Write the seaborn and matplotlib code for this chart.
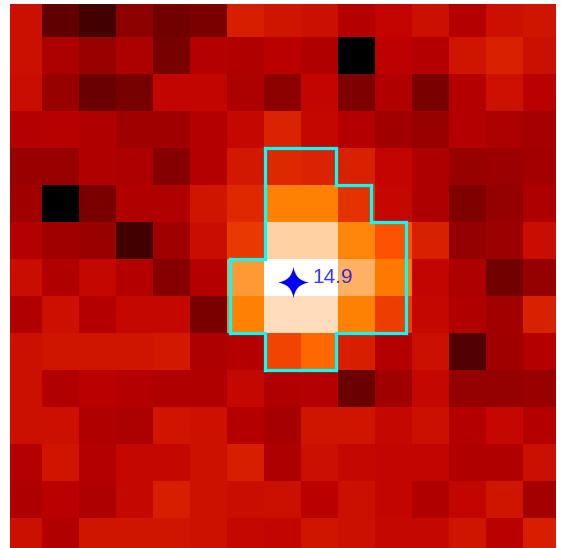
import numpy as np
import matplotlib
matplotlib.use("Agg")
import matplotlib.pyplot as plt
import seaborn as sns
from matplotlib.path import Path
from matplotlib.collections import LineCollection
from matplotlib.transforms import Affine2D

# ---- data (normalised pixel flux, 15 x 15 cutout, row 0 at top) ----
flux = [
    [0.53, 0.25, 0.175, 0.37, 0.30, 0.32, 0.56, 0.54, 0.53, 0.475, 0.505, 0.53, 0.475, 0.53, 0.54],
    [0.53, 0.45, 0.40, 0.45, 0.31, 0.47, 0.46, 0.49, 0.46, 0.00, 0.495, 0.47, 0.54, 0.565, 0.53],
    [0.525, 0.40, 0.28, 0.31, 0.51, 0.51, 0.45, 0.37, 0.51, 0.33, 0.46, 0.32, 0.475, 0.535, 0.49],
    [0.475, 0.48, 0.46, 0.42, 0.42, 0.475, 0.515, 0.57, 0.515, 0.475, 0.42, 0.40, 0.47, 0.45, 0.435],
    [0.40, 0.40, 0.46, 0.455, 0.355, 0.475, 0.55, 0.58, 0.57, 0.565, 0.505, 0.455, 0.40, 0.41, 0.43],
    [0.42, 0.00, 0.32, 0.46, 0.46, 0.54, 0.58, 0.75, 0.75, 0.60, 0.515, 0.455, 0.335, 0.39, 0.455],
    [0.475, 0.42, 0.40, 0.175, 0.42, 0.525, 0.61, 0.907, 0.907, 0.76, 0.66, 0.565, 0.39, 0.41, 0.525],
    [0.525, 0.46, 0.515, 0.475, 0.355, 0.475, 0.80, 1.00, 1.00, 0.845, 0.735, 0.51, 0.455, 0.30, 0.39],
    [0.46, 0.53, 0.475, 0.515, 0.515, 0.32, 0.75, 0.93, 0.93, 0.75, 0.62, 0.515, 0.46, 0.425, 0.565],
    [0.53, 0.54, 0.54, 0.54, 0.55, 0.455, 0.475, 0.63, 0.70, 0.56, 0.475, 0.53, 0.21, 0.42, 0.475],
    [0.53, 0.46, 0.49, 0.475, 0.46, 0.46, 0.515, 0.46, 0.475, 0.28, 0.42, 0.515, 0.39, 0.39, 0.40],
    [0.53, 0.53, 0.46, 0.45, 0.54, 0.535, 0.475, 0.435, 0.54, 0.54, 0.515, 0.53, 0.475, 0.515, 0.475],
    [0.475, 0.54, 0.475, 0.515, 0.515, 0.535, 0.56, 0.455, 0.53, 0.515, 0.51, 0.51, 0.46, 0.46, 0.53],
    [0.455, 0.49, 0.455, 0.515, 0.56, 0.535, 0.525, 0.53, 0.49, 0.53, 0.51, 0.46, 0.51, 0.54, 0.43],
    [0.53, 0.46, 0.54, 0.54, 0.54, 0.535, 0.515, 0.51, 0.54, 0.53, 0.515, 0.515, 0.54, 0.49, 0.56],
]

aperture_mask = [
    "...............",
    "...............",
    "...............",
    "...............",
    ".......##......",
    ".......###.....",
    ".......####....",
    "......#####....",
    "......#####....",
    ".......##......",
    "...............",
    "...............",
    "...............",
    "...............",
    "...............",
]

star_x = [7.79]
star_y = [7.63]
star_mag = [14.9]

# ---- figure ----
W, H = 561, 548
fig = plt.figure(figsize=(W / 100, H / 100), dpi=100)
fig.patch.set_facecolor("white")
ax = fig.add_axes([10 / W, 0, 546 / W, 544 / H])

data = np.array(flux)
sns.heatmap(data, cmap="gist_heat", vmin=0, vmax=1, cbar=False, ax=ax,
            xticklabels=False, yticklabels=False, linewidths=0)

# aperture outline derived from the mask
mask = np.array([[ch == "#" for ch in row] for row in aperture_mask])
nr, nc = mask.shape
segs = []
for r in range(nr):
    for c in range(nc):
        if not mask[r, c]:
            continue
        if r == 0 or not mask[r - 1, c]:
            segs.append([(c, r), (c + 1, r)])
        if r == nr - 1 or not mask[r + 1, c]:
            segs.append([(c, r + 1), (c + 1, r + 1)])
        if c == 0 or not mask[r, c - 1]:
            segs.append([(c, r), (c, r + 1)])
        if c == nc - 1 or not mask[r, c + 1]:
            segs.append([(c + 1, r), (c + 1, r + 1)])
outline_tr = Affine2D().scale(0.951, 1.0).translate(0.3735, 0.0) + ax.transData
lc = LineCollection(segs, colors="cyan", linewidths=2.3, capstyle="projecting",
                    transform=outline_tr, zorder=3)
ax.add_collection(lc)

# four-pointed star marker
k = 0.12
verts = [(0, 1), (k, k), (1, 0), (k, -k), (0, -1), (-k, -k), (-1, 0), (-k, k), (0, 1)]
codes = [Path.MOVETO, Path.CURVE3, Path.CURVE3, Path.CURVE3, Path.CURVE3,
         Path.CURVE3, Path.CURVE3, Path.CURVE3, Path.CURVE3]
star_path = Path(verts, codes)
ax.plot(star_x, star_y, linestyle="none", marker=star_path, markersize=22.5,
        color="blue", markeredgewidth=0, zorder=4)
for sx, sy, m in zip(star_x, star_y, star_mag):
    ax.annotate(f"{m:.1f}", (sx, sy), xytext=(13.5, -0.5), textcoords="offset points",
                ha="left", va="baseline", color="blue", alpha=0.78, fontsize=15,
                family=["Liberation Sans", "DejaVu Sans"], zorder=5)

ax.set_xlim(0.135, 14.89)
ax.set_ylim(14.81, 0.108)
ax.set_axis_off()

fig.savefig("out.png", dpi=100)
